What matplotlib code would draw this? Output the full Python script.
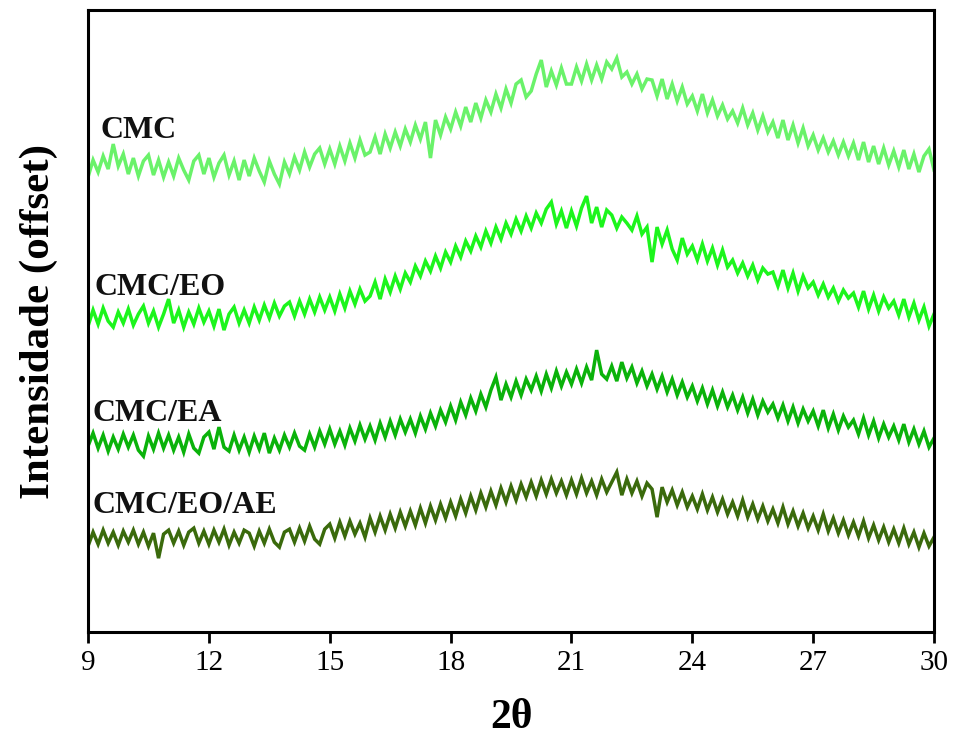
import numpy as np
import matplotlib
matplotlib.use("Agg")
import matplotlib.pyplot as plt

plt.rcParams['font.family'] = ['Liberation Serif', 'DejaVu Serif']

# 2theta grid: 9 to 30 in steps of 0.125 degrees
two_theta = np.arange(169) * 0.125 + 9.0

cmc = [
    455, 472, 460, 476, 463, 488, 466, 478,
    458, 474, 456, 471, 477, 457, 472, 455,
    470, 456, 474, 462, 452, 471, 477, 458,
    474, 455, 469, 477, 457, 471, 452, 472,
    456, 474, 461, 450, 471, 458, 448, 470,
    458, 475, 462, 480, 465, 478, 484, 468,
    483, 468, 486, 471, 489, 474, 492, 477,
    480, 495, 478, 498, 484, 500, 486, 503,
    490, 507, 493, 510, 474, 512, 497, 515,
    503, 520, 506, 525, 510, 529, 514, 532,
    520, 538, 524, 543, 529, 548, 552, 535,
    541, 558, 572, 545, 561, 547, 564, 548,
    548, 565, 551, 568, 552, 567, 553, 570,
    563, 574, 555, 560, 548, 558, 543, 553,
    552, 536, 553, 533, 548, 531, 545, 528,
    536, 521, 538, 519, 532, 516, 527, 513,
    521, 509, 524, 507, 519, 502, 516, 500,
    510, 494, 512, 492, 507, 489, 504, 486,
    497, 482, 494, 480, 491, 477, 490, 476,
    489, 472, 490, 470, 486, 468, 484, 467,
    481, 465, 482, 463, 478, 460, 476, 483,
    462,
]

cmc_eo = [
    306, 322, 308, 324, 311, 305, 320, 309,
    323, 307, 318, 326, 309, 321, 305, 318,
    333, 309, 322, 305, 320, 308, 324, 310,
    321, 306, 323, 302, 318, 325, 309, 322,
    309, 325, 312, 327, 314, 329, 316, 326,
    330, 316, 331, 318, 333, 320, 335, 322,
    335, 321, 338, 324, 341, 328, 343, 331,
    336, 350, 333, 353, 340, 356, 343, 359,
    350, 366, 356, 371, 361, 376, 364, 380,
    370, 386, 375, 391, 381, 396, 385, 401,
    389, 405, 393, 409, 398, 413, 401, 416,
    404, 419, 409, 423, 430, 408, 421, 404,
    421, 406, 424, 436, 409, 425, 405, 422,
    417, 404, 415, 409, 402, 416, 398, 405,
    370, 405, 388, 402, 383, 372, 394, 378,
    386, 372, 388, 371, 384, 367, 382, 365,
    372, 359, 369, 356, 367, 352, 364, 358,
    360, 346, 362, 344, 359, 341, 356, 344,
    350, 337, 348, 335, 344, 331, 342, 334,
    339, 325, 341, 323, 337, 321, 335, 324,
    331, 317, 333, 315, 329, 312, 325, 306,
    318,
]

cmc_ea = [
    186, 199, 184, 197, 181, 195, 183, 198,
    185, 197, 182, 176, 196, 183, 199, 184,
    197, 182, 195, 180, 198, 184, 179, 195,
    200, 183, 205, 185, 181, 197, 182, 195,
    180, 196, 183, 199, 179, 194, 182, 197,
    185, 199, 186, 182, 198, 185, 201, 188,
    203, 188, 201, 187, 204, 191, 207, 193,
    206, 192, 209, 195, 211, 197, 213, 200,
    213, 199, 216, 203, 219, 206, 222, 210,
    226, 212, 230, 217, 234, 221, 238, 225,
    242, 255, 232, 248, 235, 251, 237, 253,
    242, 256, 241, 258, 244, 261, 246, 260,
    248, 263, 249, 265, 252, 282, 258, 253,
    266, 251, 270, 254, 265, 249, 261, 246,
    258, 243, 256, 240, 253, 237, 250, 235,
    246, 231, 244, 228, 242, 226, 240, 225,
    237, 222, 235, 219, 233, 217, 231, 220,
    228, 214, 227, 211, 225, 209, 223, 211,
    221, 206, 222, 204, 218, 202, 216, 205,
    212, 198, 214, 197, 211, 194, 208, 195,
    206, 192, 208, 190, 203, 188, 201, 185,
    194,
]

cmc_eo_ae = [
    86, 100, 88, 102, 89, 100, 87, 101,
    90, 102, 88, 100, 86, 99, 74, 98,
    102, 89, 101, 87, 100, 104, 89, 101,
    88, 102, 90, 103, 87, 100, 89, 102,
    99, 86, 101, 89, 103, 90, 85, 100,
    103, 90, 104, 91, 106, 93, 88, 103,
    108, 94, 110, 96, 111, 98, 109, 95,
    114, 100, 116, 102, 118, 104, 120, 106,
    121, 107, 124, 109, 126, 112, 128, 114,
    130, 116, 133, 119, 136, 122, 139, 125,
    141, 127, 144, 130, 146, 132, 148, 135,
    150, 136, 152, 138, 153, 139, 151, 137,
    152, 138, 154, 139, 151, 137, 153, 140,
    150, 160, 137, 153, 139, 151, 136, 149,
    143, 115, 145, 130, 142, 127, 140, 125,
    136, 123, 138, 122, 135, 120, 133, 118,
    130, 116, 132, 115, 128, 113, 126, 111,
    123, 109, 125, 108, 121, 106, 119, 104,
    116, 102, 118, 101, 114, 99, 112, 97,
    110, 96, 111, 94, 107, 92, 105, 90,
    103, 89, 104, 88, 100, 85, 99, 86,
    95,
]

labels = ["CMC", "CMC/EO", "CMC/EA", "CMC/EO/AE"]
series = [cmc, cmc_eo, cmc_ea, cmc_eo_ae]
colors = ["#6AF26A", "#1CF51C", "#0AB20A", "#3A6A0C"]
label_pos = [(9.3, 502), (9.17, 345), (9.12, 219), (9.12, 127)]
x_ticks = [9, 12, 15, 18, 21, 24, 27, 30]

fig = plt.figure(figsize=(9.57, 7.42), dpi=100)
ax = fig.add_axes([0.092, 0.148, 0.884, 0.8385])

for y, c in zip(series, colors):
    ax.plot(two_theta, y, color=c, lw=2.5, solid_joinstyle='miter')

for lab, (lx, ly) in zip(labels, label_pos):
    ax.text(lx, ly, lab, fontsize=23, fontweight='bold', ha='left', va='center', color='#111111')

ax.set_xlim(9, 30)
ax.set_ylim(0, 622)
ax.set_xticks(x_ticks)
ax.set_xticklabels([str(t) for t in x_ticks], fontsize=21)
ax.set_yticks([])
ax.tick_params(axis='x', direction='out', length=8, width=2, pad=5)
for s in ax.spines.values():
    s.set_linewidth(2.2)

ax.set_xlabel("2θ", fontsize=30, fontweight='bold')
ax.xaxis.set_label_coords(0.5, -0.108)
ax.set_ylabel("Intensidade (offset)", fontsize=31, fontweight='bold')
ax.yaxis.set_label_coords(-0.036, 0.5)

fig.savefig("out.png", dpi=100)
